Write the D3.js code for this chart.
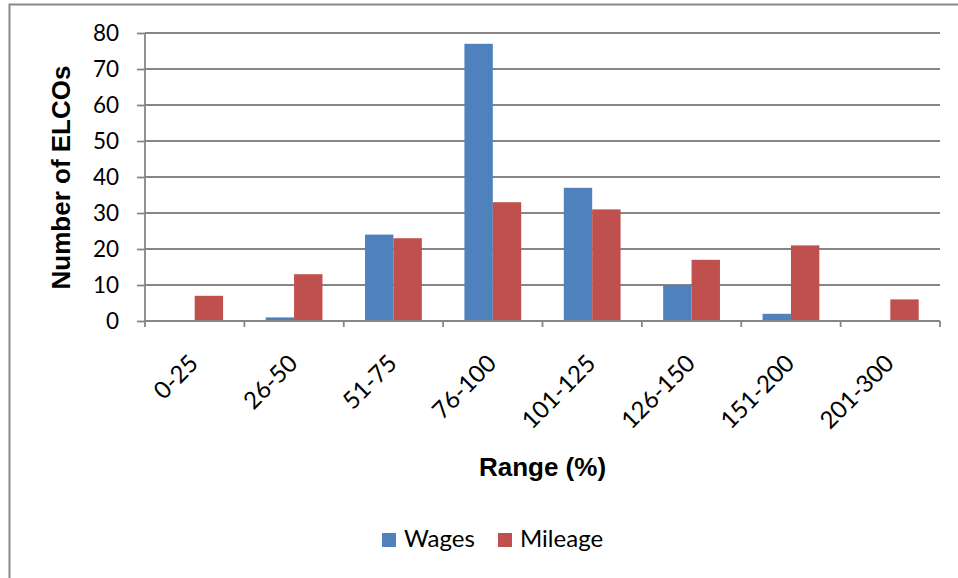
<!DOCTYPE html>
<html><head><meta charset="utf-8">
<script src="https://cdn.jsdelivr.net/npm/d3@7"></script>
<style>body{margin:0;background:#fff}svg{display:block}</style>
</head><body><svg id="c" width="958" height="578"></svg>
<script>
const categories = ["0-25","26-50","51-75","76-100","101-125","126-150","151-200","201-300"];
const wages = [0,1,24,77,37,10,2,0];
const mileage = [7,13,23,33,31,17,21,6];
const seriesNames = ["Wages","Mileage"];
const colors = ["#4F81BD","#C0504D"];
const yTicks = [0,10,20,30,40,50,60,70,80];

const LABEL_FONT = "Lato, 'Open Sans', sans-serif";
const TITLE_FONT = "'Liberation Sans', Arial, sans-serif";

const svg = d3.select("#c");
svg.append("rect").attr("x",9.5).attr("y",4.5).attr("width",960).attr("height",600)
  .attr("fill","#fff").attr("stroke","#898989").attr("stroke-width",2);

const L=145, R=940, T=33, B=321;
const x = d3.scaleBand().domain(categories).range([L,R]);
const y = d3.scaleLinear().domain([0,80]).range([B,T]);
const inner = d3.scaleBand().domain(seriesNames).range([0,x.bandwidth()]).paddingInner(0).paddingOuter(0.75);

// gridlines
svg.append("g").selectAll("line").data(yTicks.filter(d=>d>0)).join("line")
  .attr("x1",L).attr("x2",R).attr("y1",d=>y(d)).attr("y2",d=>y(d))
  .attr("stroke","#868686").attr("stroke-width",1.8);

// bars
const data = categories.map((c,i)=>({c, vals:[wages[i],mileage[i]]}));
const g = svg.append("g");
data.forEach(d=>{
  d.vals.forEach((v,j)=>{
    if(v<=0) return;
    g.append("rect").attr("x",x(d.c)+inner(seriesNames[j])).attr("width",inner.bandwidth())
      .attr("y",y(v)).attr("height",B-y(v)).attr("fill",colors[j]);
  });
});

// y axis
const ya = svg.append("g").attr("transform",`translate(${L},0)`)
  .call(d3.axisLeft(y).tickValues(yTicks).tickSize(8).tickPadding(18));
ya.select(".domain").attr("stroke","#868686").attr("stroke-width",1.8).attr("d",`M0,${T}V${B}`);
ya.selectAll(".tick line").attr("stroke","#868686").attr("stroke-width",1.8);
ya.selectAll(".tick text").attr("fill","#000")
  .style("font-family",LABEL_FONT).style("font-size","22.5px");

// x axis
const xa = svg.append("g").attr("transform",`translate(0,${B})`)
  .call(d3.axisBottom(x).tickSize(0).tickFormat(""));
xa.select(".domain").attr("stroke","#868686").attr("stroke-width",1.8).attr("d",`M${L},0H${R}`);
const xt = svg.append("g");
const edges = categories.map(c=>x(c)).concat([R]);
xt.selectAll("line").data(edges).join("line").attr("x1",d=>d).attr("x2",d=>d)
  .attr("y1",B).attr("y2",B+6).attr("stroke","#868686").attr("stroke-width",1.8);
xt.selectAll("text").data(categories).join("text")
  .attr("transform",d=>`translate(${x(d)+x.bandwidth()/2+5},${B+44}) rotate(-45)`)
  .attr("text-anchor","end").attr("fill","#000")
  .style("font-family",LABEL_FONT).style("font-size","24px").text(d=>d);

// axis titles
svg.append("text").attr("transform",`translate(70,${(62+293)/2}) rotate(-90)`).attr("text-anchor","middle")
  .style("font-family",TITLE_FONT).style("font-size","26px").style("font-weight","bold").text("Number of ELCOs");
svg.append("text").attr("x",(L+R)/2).attr("y",476).attr("text-anchor","middle")
  .style("font-family",TITLE_FONT).style("font-size","26px").style("font-weight","bold").text("Range (%)");

// legend
const legX=[382,498];
seriesNames.forEach((s,i)=>{
  svg.append("rect").attr("x",legX[i]).attr("y",533).attr("width",14).attr("height",14).attr("fill",colors[i]);
  svg.append("text").attr("x",legX[i]+22).attr("y",547).attr("fill","#000")
    .style("font-family",LABEL_FONT).style("font-size","24px").text(s);
});
</script></body></html>
